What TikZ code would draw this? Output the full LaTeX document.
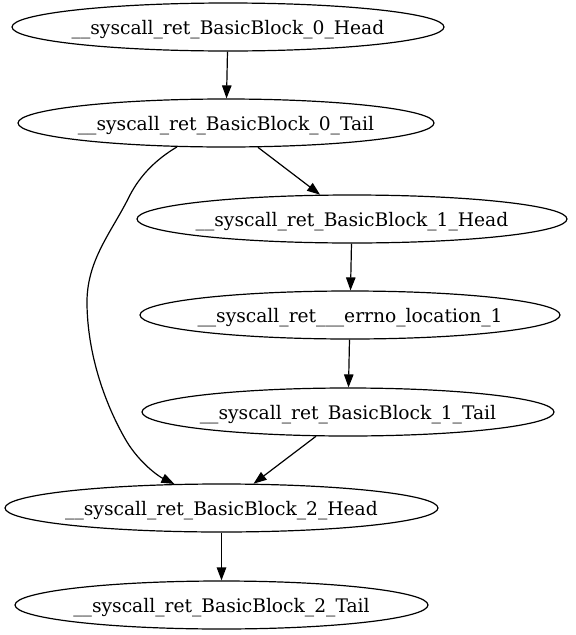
\documentclass[tikz,border=0pt]{standalone}
\usepackage{fontspec}
\setmainfont{DejaVu Serif}
\usetikzlibrary{shapes.geometric,arrows.meta}
\newfontfamily\graphfont{DejaVu Serif}
\begin{document}
\begin{tikzpicture}[x=1pt,y=-1pt,
  gnode/.style={ellipse, draw, line width=1.2pt, inner sep=0pt, minimum height=48pt},
  gtext/.style={font=\graphfont\fontsize{18.67pt}{22pt}\selectfont, inner sep=0pt, yshift=-3pt},
  edge/.style={line width=1.2pt, -{Triangle[length=13pt,width=9.5pt]}},
]
\useasboundingbox (0,0) rectangle (576,635);

% basic-block nodes
\node[gnode, minimum width=432pt,
  label={[gtext, name=h0l]center:\_\_syscall\_ret\_BasicBlock\_0\_Head}] (h0) at (228,27) {};
\node[gnode, minimum width=416pt,
  label={[gtext, name=t0l]center:\_\_syscall\_ret\_BasicBlock\_0\_Tail}] (t0) at (226,123) {};
\node[gnode, minimum width=430pt,
  label={[gtext, name=h1l]center:\_\_syscall\_ret\_BasicBlock\_1\_Head}] (h1) at (352,219) {};
\node[gnode, minimum width=420pt,
  label={[gtext, name=e1l]center:\_\_syscall\_ret\_\_\_errno\_location\_1}] (e1) at (350,315) {};
\node[gnode, minimum width=412pt,
  label={[gtext, name=t1l]center:\_\_syscall\_ret\_BasicBlock\_1\_Tail}] (t1) at (348,412) {};
\node[gnode, minimum width=433pt,
  label={[gtext, name=h2l]center:\_\_syscall\_ret\_BasicBlock\_2\_Head}] (h2) at (221.5,508) {};
\node[gnode, minimum width=413pt,
  label={[gtext, name=t2l]center:\_\_syscall\_ret\_BasicBlock\_2\_Tail}] (t2) at (221.5,605) {};

% control-flow edges
\draw[edge] (h0) -- (t0);
\draw[edge] (t0) -- (h1);
\draw[edge] (h1) -- (e1);
\draw[edge] (e1) -- (t1);
\draw[edge] (t1) -- (h2);
\draw[edge] (h2) -- (t2);
\draw[edge] (t0.206) .. controls (155,160) and (140,176) .. (130,195)
  .. controls (112,232) and (86,260) .. (87,305)
  .. controls (88,360) and (108,410) .. (127,442)
  .. controls (140,463) and (158,476) .. (h2.153);
\end{tikzpicture}
\end{document}
